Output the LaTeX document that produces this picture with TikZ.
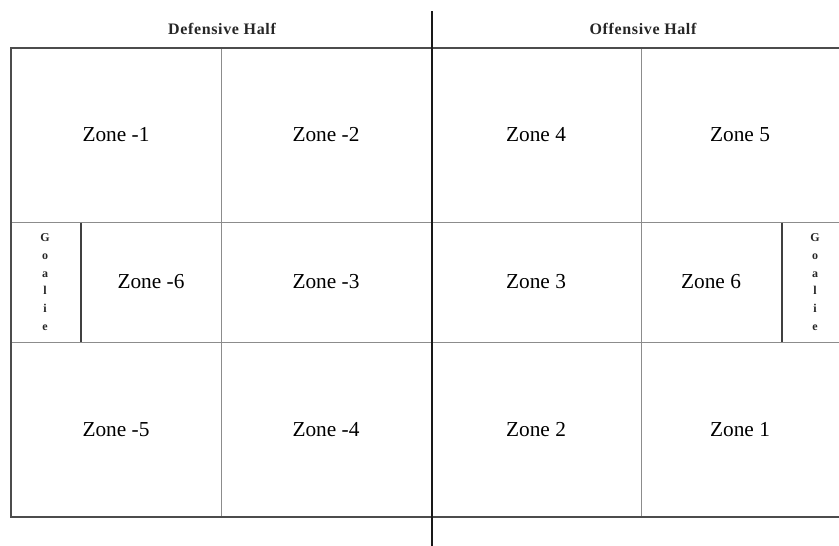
\documentclass[tikz,border=0pt]{standalone}
\usepackage{fontspec}
\setmainfont{Liberation Serif}
\begin{document}
\begin{tikzpicture}[x=0.75pt,y=-0.75pt,
  outer/.style={draw=black!70,line width=1.5pt},
  inner/.style={draw=black!45,line width=0.6pt},
  goalline/.style={draw=black!75,line width=1pt},
  midline/.style={draw=black!90,line width=2.2pt},
  zonelbl/.style={font=\fontsize{16}{18}\selectfont,inner sep=0pt},
  halflbl/.style={font=\fontsize{12}{14}\selectfont\bfseries\addfontfeatures{LetterSpace=4},text=black!85,inner sep=0pt},
  goallbl/.style={font=\fontsize{9}{13.3}\selectfont\bfseries,align=center,inner sep=0pt,text=black!85}]
\useasboundingbox (0,0) rectangle (839,546);
% coordinates
\coordinate (tl) at (11,47.5);
\coordinate (bl) at (11,517);
\coordinate (tr) at (839,47.5);
\coordinate (br) at (839,517);
\coordinate (mt) at (432,11);
\coordinate (mb) at (432,546);
% inner lines
\draw[inner] (221.5,47.5) -- (221.5,517);
\draw[inner] (641.5,47.5) -- (641.5,517);
\draw[inner] (11,222.5) -- (839,222.5);
\draw[inner] (11,342) -- (839,342);
% goalie boxes
\draw[goalline] (81,222.5) -- (81,342);
\draw[goalline] (782,222.5) -- (782,342);
% outer border
\draw[outer] (tr) -- (tl) -- (bl) -- (br);
% midline
\draw[midline] (mt) -- (mb);
% headers
\node[halflbl] (def) at (222,29) {Defensive Half};
\node[halflbl] (off) at (643,29) {Offensive Half};
% zones
\node[zonelbl] (zm1) at (116,135) {Zone -1};
\node[zonelbl] (zm2) at (326,135) {Zone -2};
\node[zonelbl] (z4) at (536,135) {Zone 4};
\node[zonelbl] (z5) at (740,135) {Zone 5};
\node[zonelbl] (zm6) at (151,282) {Zone -6};
\node[zonelbl] (zm3) at (326,282) {Zone -3};
\node[zonelbl] (z3) at (536,282) {Zone 3};
\node[zonelbl] (z6) at (711,282) {Zone 6};
\node[zonelbl] (zm5) at (116,430) {Zone -5};
\node[zonelbl] (zm4) at (326,430) {Zone -4};
\node[zonelbl] (z2) at (536,430) {Zone 2};
\node[zonelbl] (z1) at (740,430) {Zone 1};
% goalies
\node[goallbl] (gl) at (45,282) {G\\o\\a\\l\\i\\e};
\node[goallbl] (gr) at (815,282) {G\\o\\a\\l\\i\\e};
\end{tikzpicture}
\end{document}
